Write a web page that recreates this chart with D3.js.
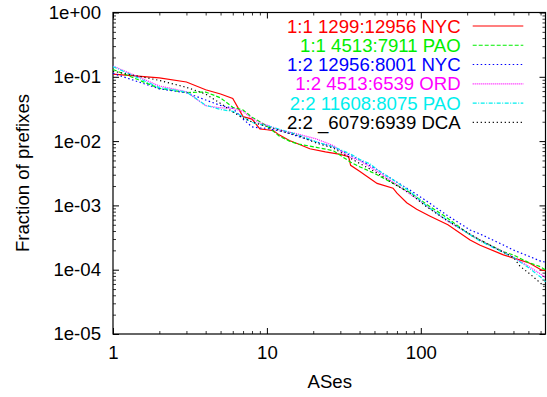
<!DOCTYPE html>
<html>
<head>
<meta charset="utf-8">
<script src="https://cdnjs.cloudflare.com/ajax/libs/d3/7.8.5/d3.min.js"></script>
<style>
    body { margin: 0; background: #fff; }
    svg text { font-family: "Liberation Sans", Arial, Helvetica, sans-serif; font-size: 18.6px; }
</style>
</head>
<body>
<div id="plot"></div>
<script>
// Rank (number of ASes) vs fraction of prefixes.
var nyc1299 = [[1,0.110],[2,0.096],[3,0.083],[4,0.063],[5,0.054],[6,0.046],[7,0.024],[8,0.022],[9,0.0155],[10,0.015],
    [11,0.0146],[12,0.0125],[14,0.0102],[16,0.0090],[19,0.0076],[24,0.0068],[30,0.0062],[34,0.0057],[35,0.0042],[40,0.0034],
    [45,0.0028],[52,0.0022],[66,0.00185],[70,0.00155],[81,0.00110],[94,0.00087],[115,0.00068],[150,0.00050],[209,0.00029],
    [243,0.00024],[344,0.00017],[439,0.000142],[511,0.000126],[607,0.000099],[646,0.000097]];
var pao4513 = [[1,0.130],[2,0.066],[3,0.057],[4,0.058],[5,0.047],[6,0.0335],[7,0.0305],[8,0.0235],[9,0.020],[10,0.0172],
    [12,0.0120],[14,0.0100],[16,0.0090],[21,0.0080],[27,0.0071],[35,0.0047],[40,0.0040],[52,0.0030],[66,0.00221],
    [85,0.00159],[109,0.00104],[147,0.00065],[209,0.000347],[344,0.000190],[400,0.000169],[500,0.000130],[600,0.000111],[646,0.0000989]];
var nyc12956 = [[1,0.113],[2,0.065],[3,0.0565],[4,0.0436],[5,0.0359],[6,0.0324],[7,0.0220],[8,0.0166],[9,0.0160],[10,0.0158],
    [13,0.0139],[16,0.0118],[21,0.0097],[27,0.0081],[35,0.0060],[40,0.0051],[52,0.0036],[66,0.0025],[85,0.00173],
    [109,0.00117],[147,0.00071],[209,0.000415],[242,0.00036],[344,0.000242],[400,0.000202],[500,0.000163],[600,0.000136],[646,0.000131]];
var ord4513 = [[1,0.147],[2,0.072],[3,0.0586],[4,0.0355],[5,0.0329],[6,0.0323],[7,0.0289],[8,0.0225],[9,0.0192],[10,0.0178],
    [12,0.0150],[16,0.0128],[21,0.0108],[27,0.0085],[35,0.0056],[40,0.0050],[52,0.0034],[66,0.0023],[85,0.00151],
    [109,0.00099],[147,0.00058],[242,0.00029],[400,0.000157],[500,0.000113],[600,0.000086],[646,0.000075]];
var pao11608 = [[1,0.144],[2,0.068],[3,0.058],[4,0.036],[5,0.031],[6,0.029],[7,0.024],[8,0.0195],[9,0.0182],[10,0.0174],
    [13,0.0145],[16,0.0125],[21,0.0097],[27,0.0082],[35,0.0063],[40,0.0052],[47,0.0044],[52,0.0036],[66,0.0025],
    [85,0.00165],[109,0.00098],[147,0.00060],[242,0.00028],[400,0.000155],[500,0.000108],[600,0.000077],[646,0.000065]];
var dca6079 = [[1,0.122],[2,0.088],[3,0.0686],[4,0.054],[5,0.0385],[6,0.0284],[7,0.0228],[8,0.0199],[9,0.0182],[10,0.0168],
    [13,0.0139],[16,0.0121],[21,0.0093],[27,0.0078],[35,0.0054],[40,0.0045],[52,0.0032],[66,0.0022],[85,0.00154],
    [109,0.00095],[147,0.00059],[242,0.00029],[400,0.000155],[440,0.000114],[520,0.000083],[620,0.0000578],[646,0.000052]];

var seriesData = [nyc1299, pao4513, nyc12956, ord4513, pao11608, dca6079];
var seriesLabels = ["1:1 1299:12956 NYC", "1:1 4513:7911 PAO", "1:2 12956:8001 NYC",
    "1:2 4513:6539 ORD", "2:2 11608:8075 PAO", "2:2 _6079:6939 DCA"];

var xTicks = [1, 10, 100];
var xTickLabels = ["1", "10", "100"];
var yTicks = [1, 1e-1, 1e-2, 1e-3, 1e-4, 1e-5];
var yTickLabels = ["1e+00", "1e-01", "1e-02", "1e-03", "1e-04", "1e-05"];

// gnuplot-ish line styles
var colors = ["#ff0000", "#00ee00", "#0000ff", "#ff00ff", "#00eeee", "#000000"];
var dashes = [null, "4,2", "1.5,2.5", "1,1", "4,1.5,1,1.5", "1.2,2.8"];

var width = 547, height = 397;
var plotLeft = 113, plotRight = 545.5, plotTop = 12.5, plotBottom = 334;

var svg = d3.select("#plot")
    .append("svg")
    .attr("width", width)
    .attr("height", height);

var x = d3.scaleLog().domain([1, 646]).range([plotLeft, plotRight]);
var y = d3.scaleLog().domain([1e-5, 1]).range([plotBottom, plotTop]);

var xMinor = x.ticks().filter(function(d){ return xTicks.indexOf(d) < 0; });
var yMinor = y.ticks().filter(function(d){ return yTicks.indexOf(d) < 0; });

// Major ticks with labels, bottom and left
svg.append("g")
    .attr("transform", "translate(0," + plotBottom + ")")
    .call(d3.axisBottom(x).tickValues(xTicks).tickSize(-6).tickPadding(11.5)
        .tickFormat(function(d, i){ return xTickLabels[i]; }));
svg.append("g")
    .attr("transform", "translate(" + plotLeft + ",0)")
    .call(d3.axisLeft(y).tickValues(yTicks).tickSize(-6).tickPadding(12)
        .tickFormat(function(d, i){ return yTickLabels[i]; }));

// Mirrored ticks, top and right
svg.append("g")
    .attr("transform", "translate(0," + plotTop + ")")
    .call(d3.axisTop(x).tickValues(xTicks).tickSize(-6).tickFormat(""));
svg.append("g")
    .attr("transform", "translate(" + plotRight + ",0)")
    .call(d3.axisRight(y).tickValues(yTicks).tickSize(-6).tickFormat(""));

// Minor ticks on all four sides
svg.append("g").attr("class", "minor").attr("transform", "translate(0," + plotBottom + ")")
    .call(d3.axisBottom(x).tickValues(xMinor).tickSize(-3).tickFormat(""));
svg.append("g").attr("class", "minor").attr("transform", "translate(0," + plotTop + ")")
    .call(d3.axisTop(x).tickValues(xMinor).tickSize(-3).tickFormat(""));
svg.append("g").attr("class", "minor").attr("transform", "translate(" + plotLeft + ",0)")
    .call(d3.axisLeft(y).tickValues(yMinor).tickSize(-3).tickFormat(""));
svg.append("g").attr("class", "minor").attr("transform", "translate(" + plotRight + ",0)")
    .call(d3.axisRight(y).tickValues(yMinor).tickSize(-3).tickFormat(""));

svg.selectAll(".domain").remove();
svg.selectAll(".tick text").attr("fill", "#000").style("font-size", "18.6px");
svg.selectAll(".tick line").attr("stroke", "#000");
svg.selectAll(".minor .tick line").attr("stroke-width", 0.8);

// Frame
svg.append("rect")
    .attr("x", plotLeft).attr("y", plotTop)
    .attr("width", plotRight - plotLeft).attr("height", plotBottom - plotTop)
    .attr("fill", "none").attr("stroke", "#000").attr("stroke-width", 1.2);

// Curves
var line = d3.line()
    .x(function(d){ return x(d[0]); })
    .y(function(d){ return y(d[1]); });

svg.append("g")
    .selectAll("path")
    .data(seriesData)
    .enter()
    .append("path")
    .attr("d", line)
    .attr("fill", "none")
    .attr("stroke", function(d, i){ return colors[i]; })
    .attr("stroke-width", 1.2)
    .attr("stroke-dasharray", function(d, i){ return dashes[i]; });

// Legend
var legend = svg.append("g")
    .selectAll("g")
    .data(seriesLabels)
    .enter()
    .append("g")
    .attr("transform", function(d, i){ return "translate(0," + (26 + i * 19.26) + ")"; });
legend.append("text")
    .attr("x", 460.7)
    .attr("dy", "0.35em")
    .attr("text-anchor", "end")
    .attr("fill", function(d, i){ return colors[i]; })
    .text(function(d){ return d; });
legend.append("line")
    .attr("x1", 472.7).attr("x2", 523.3)
    .attr("stroke", function(d, i){ return colors[i]; })
    .attr("stroke-width", 1.2)
    .attr("stroke-dasharray", function(d, i){ return dashes[i]; });

// Axis titles
svg.append("text")
    .attr("x", 329.8).attr("y", 388)
    .attr("text-anchor", "middle")
    .text("ASes");
svg.append("text")
    .attr("transform", "translate(29,173) rotate(-90)")
    .attr("text-anchor", "middle")
    .text("Fraction of prefixes");
</script>
</body>
</html>
